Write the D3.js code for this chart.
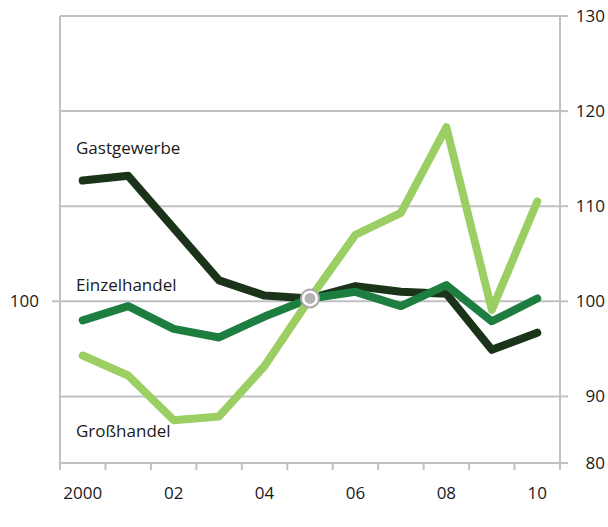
<!DOCTYPE html>
<html>
<head>
<meta charset="utf-8">
<script src="https://cdn.jsdelivr.net/npm/d3@7"></script>
<style>
  body { margin: 0; background: #fff; }
  text { font-family: "Open Sans", "Noto Sans", sans-serif; fill: #1a1a1a; }
</style>
</head>
<body>
<div id="chart"></div>
<script>
const years = [2000, 2001, 2002, 2003, 2004, 2005, 2006, 2007, 2008, 2009, 2010];
const yearLabels = ['2000', '02', '04', '06', '08', '10'];
const gastgewerbe = [112.7, 113.2, 107.7, 102.2, 100.6, 100.3, 101.6, 101.0, 100.8, 94.9, 96.7];
const einzelhandel = [98.0, 99.5, 97.1, 96.2, 98.4, 100.3, 101.0, 99.5, 101.7, 97.9, 100.3];
const grosshandel = [94.3, 92.2, 87.5, 87.9, 93.2, 100.3, 107.0, 109.3, 118.3, 99.1, 110.5];
const rightTicks = [80, 90, 100, 110, 120, 130];
const leftTicks = [100];

const series = [
  { name: 'Gastgewerbe', values: gastgewerbe, color: '#1b3318', labelY: 148 },
  { name: 'Einzelhandel', values: einzelhandel, color: '#1e7e40', labelY: 285 },
  { name: 'Großhandel', values: grosshandel, color: '#9bcf64', labelY: 431 },
];

const width = 608;
const height = 527;
const margin = { t: 16, r: 48, b: 64, l: 60 };
const yMin = 83;
const grid = '#c0c0c0';
const fontSize = 17;

const svg = d3.select('#chart').append('svg')
  .attr('width', width)
  .attr('height', height)
  .attr('viewBox', [0, 0, width, height]);

const x = d3.scaleBand()
  .domain(years)
  .range([margin.l, width - margin.r]);

const y = d3.scaleLinear()
  .domain([yMin, 130])
  .range([height - margin.b, margin.t]);

// values below the cut are pinned to the bottom line
const yc = (v) => y(Math.max(v, yMin));
const cx = (d) => x(d) + x.bandwidth() / 2;

// horizontal grid
svg.append('g')
  .selectAll('line')
  .data(rightTicks.filter(v => v > yMin))
  .join('line')
  .attr('x1', margin.l)
  .attr('x2', width - margin.r)
  .attr('y1', d => yc(d))
  .attr('y2', d => yc(d))
  .attr('stroke', grid)
  .attr('stroke-width', 2);

// right axis
const right = svg.append('g');
right.append('line')
  .attr('x1', width - margin.r).attr('x2', width - margin.r)
  .attr('y1', margin.t).attr('y2', height - margin.b + 7)
  .attr('stroke', grid).attr('stroke-width', 2);
right.selectAll('.tick')
  .data(rightTicks)
  .join(enter => {
    const g = enter.append('g');
    g.append('line')
      .attr('x1', width - margin.r).attr('x2', width - margin.r + 8)
      .attr('y1', d => yc(d)).attr('y2', d => yc(d))
      .attr('stroke', grid).attr('stroke-width', 2);
    g.append('text')
      .attr('x', 605)
      .attr('y', d => yc(d))
      .attr('dy', '0.35em')
      .attr('text-anchor', 'end')
      .attr('font-size', fontSize)
      .text(d => d);
    return g;
  });

// left axis
const left = svg.append('g');
left.append('line')
  .attr('x1', margin.l).attr('x2', margin.l)
  .attr('y1', margin.t).attr('y2', height - margin.b + 7)
  .attr('stroke', grid).attr('stroke-width', 2);
left.selectAll('.tick')
  .data(leftTicks)
  .join(enter => {
    const g = enter.append('g');
    g.append('line')
      .attr('x1', margin.l - 8).attr('x2', margin.l)
      .attr('y1', d => yc(d)).attr('y2', d => yc(d))
      .attr('stroke', grid).attr('stroke-width', 2);
    g.append('text')
      .attr('x', 39)
      .attr('y', d => yc(d))
      .attr('dy', '0.35em')
      .attr('text-anchor', 'end')
      .attr('font-size', fontSize)
      .text(d => d);
    return g;
  });

// bottom axis
const bottom = svg.append('g');
bottom.append('line')
  .attr('x1', margin.l).attr('x2', width - margin.r)
  .attr('y1', height - margin.b).attr('y2', height - margin.b)
  .attr('stroke', grid).attr('stroke-width', 2);
bottom.selectAll('.btick')
  .data(years.map(d => x(d)).concat([width - margin.r]))
  .join('line')
  .attr('x1', d => d).attr('x2', d => d)
  .attr('y1', height - margin.b).attr('y2', height - margin.b + 7)
  .attr('stroke', grid).attr('stroke-width', 2);
bottom.selectAll('text')
  .data(years.filter((d, i) => i % 2 === 0))
  .join('text')
  .attr('x', d => cx(d))
  .attr('y', height - margin.b + 30)
  .attr('dy', '0.35em')
  .attr('text-anchor', 'middle')
  .attr('font-size', fontSize)
  .text((d, i) => yearLabels[i]);

// series lines
const line = d3.line()
  .x((d, i) => cx(years[i]))
  .y(d => yc(d));

svg.append('g')
  .selectAll('path')
  .data(series)
  .join('path')
  .attr('d', d => line(d.values))
  .attr('fill', 'none')
  .attr('stroke', d => d.color)
  .attr('stroke-width', 8)
  .attr('stroke-linecap', 'round')
  .attr('stroke-linejoin', 'round');

svg.append('g')
  .selectAll('text')
  .data(series)
  .join('text')
  .attr('x', 76)
  .attr('y', d => d.labelY)
  .attr('dy', '0.35em')
  .attr('font-size', fontSize)
  .text(d => d.name);

// base year marker
const base = years.indexOf(2005);
svg.append('circle')
  .attr('cx', cx(2005))
  .attr('cy', yc(gastgewerbe[base]))
  .attr('r', 9)
  .attr('fill', '#fff')
  .attr('stroke', '#a8a8a8')
  .attr('stroke-width', 2);
svg.append('circle')
  .attr('cx', cx(2005))
  .attr('cy', yc(gastgewerbe[base]))
  .attr('r', 5.5)
  .attr('fill', '#b3b3b3');
</script>
</body>
</html>
